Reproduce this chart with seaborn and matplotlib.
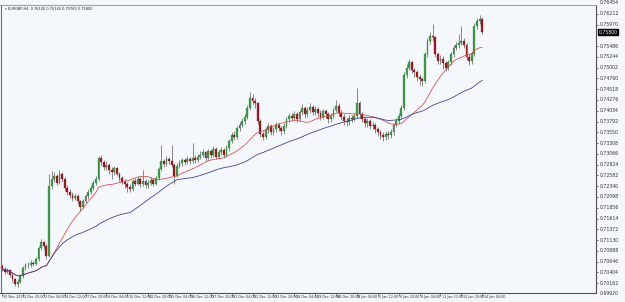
import numpy as np
import pandas as pd
import matplotlib
matplotlib.use("Agg")
import matplotlib.pyplot as plt
import matplotlib.transforms as mtransforms
import seaborn as sns

sns.set_theme(style="white")
plt.rcParams['font.family'] = ['DejaVu Sans']

# ---- data (EURGBP H4, prices in pips: 7055 -> 0.7055) ----
first_open = 7055
closes = [
    7048, 7042, 7046, 7035, 7025, 7015, 7020, 7032, 7050, 7056,
    7058, 7062, 7060, 7070, 7095, 7108, 7100, 7078, 7235, 7250,
    7258, 7242, 7262, 7250, 7230, 7222, 7215, 7208, 7212, 7200,
    7188, 7200, 7212, 7222, 7230, 7242, 7250, 7298, 7288, 7276,
    7282, 7270, 7265, 7274, 7262, 7252, 7244, 7238, 7232, 7228,
    7245, 7240, 7250, 7238, 7246, 7236, 7242, 7248, 7240, 7252,
    7272, 7290, 7284, 7296, 7290, 7282, 7258, 7280, 7286, 7292,
    7288, 7296, 7290, 7298, 7292, 7300, 7305, 7310, 7298, 7312,
    7305, 7318, 7300, 7310, 7315, 7305, 7320, 7335, 7350, 7345,
    7365, 7372, 7380, 7390, 7410, 7432, 7425, 7420, 7380, 7352,
    7345, 7360, 7370, 7355, 7362, 7372, 7365, 7358, 7370, 7385,
    7392, 7388, 7395, 7385, 7400, 7410, 7395, 7405, 7412, 7400,
    7408, 7398, 7390, 7402, 7395, 7385, 7392, 7405, 7415, 7398,
    7390, 7380, 7378, 7388, 7385, 7392, 7420, 7395, 7385, 7375,
    7380, 7370, 7372, 7362, 7355, 7350, 7345, 7352, 7348, 7356,
    7372, 7380, 7392, 7410, 7484, 7500, 7512, 7495, 7490, 7480,
    7475, 7470, 7530, 7560, 7572, 7568, 7530, 7515, 7520, 7510,
    7500, 7512, 7530, 7545, 7550, 7556, 7560, 7552, 7525, 7515,
    7530, 7594, 7605, 7610, 7580,
]
highs = [
    7060, 7052, 7050, 7049, 7040, 7028, 7026, 7036, 7054, 7062,
    7064, 7068, 7066, 7076, 7100, 7115, 7112, 7104, 7262, 7268,
    7266, 7262, 7270, 7266, 7255, 7236, 7228, 7220, 7218, 7216,
    7204, 7206, 7216, 7228, 7236, 7248, 7256, 7302, 7304, 7292,
    7290, 7286, 7276, 7280, 7278, 7266, 7256, 7250, 7244, 7238,
    7250, 7252, 7256, 7254, 7270, 7250, 7248, 7254, 7252, 7258,
    7278, 7326, 7296, 7302, 7300, 7326, 7286, 7286, 7292, 7298,
    7298, 7302, 7300, 7330, 7304, 7306, 7312, 7318, 7314, 7318,
    7316, 7324, 7322, 7316, 7322, 7320, 7326, 7340, 7356, 7358,
    7370, 7378, 7386, 7396, 7416, 7445, 7440, 7432, 7424, 7385,
    7358, 7366, 7376, 7374, 7368, 7378, 7376, 7370, 7376, 7390,
    7398, 7398, 7402, 7400, 7406, 7418, 7414, 7412, 7420, 7416,
    7414, 7412, 7404, 7408, 7408, 7400, 7398, 7410, 7428, 7420,
    7404, 7396, 7388, 7394, 7394, 7398, 7455, 7425, 7400, 7390,
    7386, 7385, 7378, 7376, 7366, 7360, 7356, 7358, 7358, 7362,
    7376, 7386, 7398, 7416, 7490, 7508, 7520, 7516, 7500, 7494,
    7486, 7480, 7536, 7566, 7580, 7598, 7572, 7536, 7528, 7526,
    7514, 7518, 7536, 7550, 7558, 7575, 7594, 7566, 7556, 7530,
    7536, 7600, 7612, 7618, 7614,
]
lows = [
    7044, 7036, 7038, 7030, 7018, 7010, 7008, 7016, 7028, 7046,
    7050, 7052, 7054, 7056, 7066, 7090, 7094, 7070, 7074, 7228,
    7244, 7236, 7238, 7244, 7224, 7214, 7208, 7200, 7202, 7194,
    7179, 7184, 7196, 7206, 7216, 7226, 7236, 7246, 7282, 7270,
    7270, 7262, 7250, 7260, 7256, 7246, 7238, 7230, 7220, 7222,
    7224, 7234, 7236, 7232, 7234, 7230, 7230, 7236, 7234, 7236,
    7248, 7268, 7278, 7280, 7284, 7276, 7238, 7254, 7274, 7280,
    7282, 7284, 7284, 7286, 7286, 7288, 7294, 7300, 7290, 7294,
    7298, 7300, 7294, 7296, 7304, 7298, 7300, 7314, 7330, 7338,
    7340, 7358, 7366, 7374, 7384, 7405, 7418, 7410, 7374, 7344,
    7338, 7340, 7354, 7348, 7350, 7356, 7358, 7350, 7352, 7364,
    7378, 7380, 7382, 7378, 7380, 7394, 7388, 7390, 7398, 7394,
    7394, 7390, 7382, 7384, 7388, 7376, 7378, 7386, 7400, 7392,
    7382, 7372, 7370, 7372, 7378, 7380, 7388, 7388, 7378, 7368,
    7368, 7362, 7362, 7354, 7346, 7340, 7336, 7338, 7340, 7342,
    7350, 7366, 7374, 7386, 7404, 7476, 7494, 7488, 7480, 7470,
    7462, 7460, 7466, 7524, 7554, 7560, 7524, 7508, 7508, 7496,
    7492, 7494, 7506, 7524, 7540, 7544, 7550, 7544, 7518, 7506,
    7508, 7526, 7588, 7598, 7576,
]
date_labels = [
    "30 Nov 2015", "1 Dec 20:00", "3 Dec 04:00", "4 Dec 12:00", "7 Dec 20:00",
    "9 Dec 04:00", "10 Dec 12:00", "11 Dec 20:00", "15 Dec 04:00", "16 Dec 12:00",
    "17 Dec 20:00", "21 Dec 04:00", "22 Dec 12:00", "23 Dec 20:00", "28 Dec 04:00",
    "29 Dec 12:00", "30 Dec 20:00", "4 Jan 04:00", "5 Jan 12:00", "6 Jan 20:00",
    "8 Jan 04:00", "11 Jan 12:00", "12 Jan 20:00", "14 Jan 04:00",
]
price_ticks = [
    0.69920, 0.70162, 0.70404, 0.70646, 0.70888, 0.71130, 0.71372, 0.71614,
    0.71856, 0.72098, 0.72340, 0.72582, 0.72824, 0.73066, 0.73308, 0.73550,
    0.73792, 0.74034, 0.74276, 0.74518, 0.74760, 0.75002, 0.75244, 0.75486,
    0.75728, 0.75970, 0.76212, 0.76454,
]
symbol = "EURGBP,H4"
bars_per_label = 8
ma_fast_period = 20
ma_slow_period = 50

# ---- build frame ----
n = len(closes)
opens = [first_open] + closes[:-1]
df = pd.DataFrame({
    "bar": np.arange(n),
    "open": np.array(opens) / 10000.0,
    "high": np.array(highs) / 10000.0,
    "low": np.array(lows) / 10000.0,
    "close": np.array(closes) / 10000.0,
})
df["ma_fast"] = df["close"].rolling(ma_fast_period, min_periods=1).mean()
df["ma_slow"] = df["close"].rolling(ma_slow_period, min_periods=1).mean()

# ---- figure ----
W, H = 625, 302
fig = plt.figure(figsize=(W / 100, H / 100), dpi=100)
bg = "#f4f8fc"
fig.patch.set_facecolor(bg)
ax = fig.add_axes([0.0, 9 / H, 596 / W, 288 / H])
ax.set_facecolor(bg)

px_per_bar = 2.61
ax.set_xlim(-2 / px_per_bar, 594 / px_per_bar)
ax.set_ylim(0.69942, 0.76408)

up = df["close"] >= df["open"]
green = "#3c9e48"
green_edge = "#2a7a34"
red = "#a8161e"
wick = "#5a5a5a"

ax.vlines(df["bar"], df["low"], df["high"], color=wick, linewidth=0.5, zorder=2)
body_h = (df["close"] - df["open"]).abs().clip(lower=0.00006)
body_b = df[["open", "close"]].min(axis=1)
ax.bar(df["bar"][up], body_h[up], bottom=body_b[up], width=0.7,
       color=green, edgecolor=green_edge, linewidth=0.2, zorder=3)
ax.bar(df["bar"][~up], body_h[~up], bottom=body_b[~up], width=0.7,
       color=red, edgecolor="#7a1014", linewidth=0.2, zorder=3)

sns.lineplot(data=df, x="bar", y="ma_fast", ax=ax, color="#e0443c",
             linewidth=0.55, zorder=4)
sns.lineplot(data=df, x="bar", y="ma_slow", ax=ax, color="#34349a",
             linewidth=0.55, zorder=4)

# spines
for s in ["left", "top"]:
    ax.spines[s].set_visible(False)
ax.spines["right"].set_color("#505050")
ax.spines["right"].set_linewidth(0.8)
ax.spines["bottom"].set_color("#505050")
ax.spines["bottom"].set_linewidth(0.8)
fig.add_artist(plt.Line2D([0, 596 / W], [1 - 5 / H, 1 - 5 / H], color="#a0a0a0",
                          linewidth=0.8, transform=fig.transFigure))
fig.add_artist(plt.Line2D([0.5 / W, 0.5 / W], [9 / H, 1 - 5 / H], color="#707070",
                          linewidth=0.8, transform=fig.transFigure))

ax.set_xlabel("")
ax.set_ylabel("")
ax.set_xticks([])
ax.set_yticks([])

narrow = ['Liberation Sans Narrow', 'DejaVu Sans Condensed', 'DejaVu Sans']

# y labels (right)
last_close = df["close"].iloc[-1]
ytr = mtransforms.blended_transform_factory(ax.transAxes, ax.transData)
for v in price_ticks:
    if abs(v - last_close) < 0.0012:
        continue
    ax.text(1.006, v, f"{v:.5f}", transform=ytr, fontsize=3.3, color="#303030",
            va="center", ha="left", clip_on=False)
    if 0.69942 <= v <= 0.76408:
        ax.plot([1.0, 1.004], [v, v], transform=ytr, color="#505050",
                linewidth=0.5, clip_on=False)
ax.text(1.004, last_close, f"{last_close:.5f}", transform=ytr, fontsize=3.3,
        color="white", va="center", ha="left", clip_on=False,
        bbox=dict(boxstyle="square,pad=0.15", fc="black", ec="black"))

# x labels (bottom)
xtr = mtransforms.blended_transform_factory(ax.transData, ax.transAxes)
for k, lab in enumerate(date_labels):
    b = k * bars_per_label
    ax.plot([b, b], [0, -0.012], transform=xtr, color="#505050", linewidth=0.5,
            clip_on=False)
    ax.text(b + 0.5, -0.007, lab, transform=xtr, fontsize=2.4, color="#303030",
            va="top", ha="left", clip_on=False, family=narrow)

# header
o, h, l, c = df.iloc[-1][["open", "high", "low", "close"]]
ax.text(0.008, 0.993, f"\u25BE {symbol}  {o:.5f} {h:.5f} {l:.5f} {c:.5f}",
        transform=ax.transAxes, fontsize=2.5, color="#202020", va="top", ha="left",
        family=narrow)

fig.savefig("out.png", dpi=100, facecolor=bg)
